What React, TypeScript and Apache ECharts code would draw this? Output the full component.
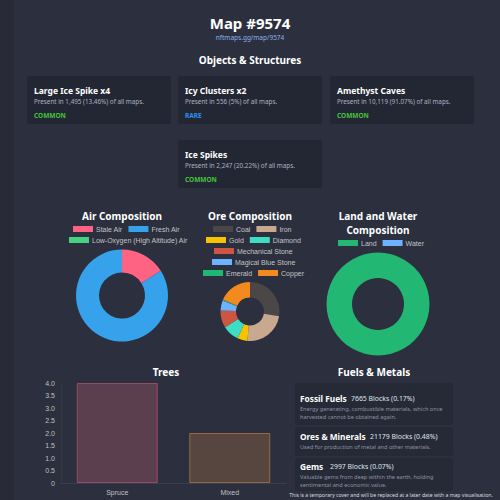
import React, { useEffect, useRef } from "react";
import * as echarts from "echarts";

// ---------- data ----------
const mapTitle = "Map #9574";
const mapLink = "nftmaps.gg/map/9574";

const objectTitles = ["Large Ice Spike x4", "Icy Clusters x2", "Amethyst Caves", "Ice Spikes"];
const objectDescs = [
  "Present in 1,495 (13.46%) of all maps.",
  "Present in 556 (5%) of all maps.",
  "Present in 10,119 (91.07%) of all maps.",
  "Present in 2,247 (20.22%) of all maps.",
];
const objectRarity = ["COMMON", "RARE", "COMMON", "COMMON"];

const airNames = ["Stale Air", "Fresh Air", "Low-Oxygen (High Altitude) Air"];
const airValues = [16, 84, 0];
const airColors = ["#ff6384", "#36a2eb", "#45d381"];

const oreNames = ["Coal", "Iron", "Gold", "Diamond", "Mechanical Stone", "Magical Blue Stone", "Emerald", "Copper"];
const oreValues = [27.6, 23.8, 5.5, 9.2, 9.4, 5.6, 0.5, 18.4];
const oreColors = ["#4a4746", "#c9a890", "#f9c200", "#3fdcc4", "#cf5543", "#6cb2ff", "#1eb774", "#f38a1f"];

const landNames = ["Land", "Water"];
const landValues = [100, 0];
const landColors = ["#22b873", "#6cb2ff"];

const treeCategories = ["Spruce", "Mixed"];
const treeValues = [4, 2];
const treeFill = ["#5b3f4f", "#57463f"];
const treeBorder = ["rgba(255,99,132,0.45)", "rgba(255,159,64,0.45)"];

const fuelNames = ["Fossil Fuels", "Ores & Minerals", "Gems"];
const fuelBlocks = ["7665 Blocks (0.17%)", "21179 Blocks (0.48%)", "2997 Blocks (0.07%)"];
const fuelDescs = [
  ["Energy generating, combustible materials, which once", "harvested cannot be obtained again."],
  ["Used for production of metal and other materials."],
  ["Valuable gems from deep within the earth, holding", "sentimental and economic value."],
];
const footerText = "This is a temporary cover and will be replaced at a later date with a map visualisation.";

// ---------- helpers ----------
const HEAD = "'Noto Sans', 'Open Sans', sans-serif";
const BODY = "'Liberation Sans', Arial, sans-serif";

function txt(text: string, x: number, y: number, size: number, fill: string, weight: string | number = "normal", align = "left", family = HEAD) {
  return {
    type: "text",
    x,
    y,
    z: 10,
    style: {
      text,
      fill,
      fontSize: size,
      fontWeight: weight,
      fontFamily: family,
      textAlign: align,
      textVerticalAlign: "middle",
    },
  };
}

function card(x: number, y: number, w: number, h: number, fill = "#232733") {
  return { type: "rect", z: 1, shape: { x, y, width: w, height: h, r: 3 }, style: { fill } };
}

function legend(names: string[], left: number, cy: number) {
  return {
    data: names,
    left,
    top: cy - 4.5,
    padding: 0,
    orient: "horizontal",
    icon: "rect",
    itemWidth: 20,
    itemHeight: 6,
    itemGap: 6,
    selectedMode: false,
    textStyle: { color: "#c4c4c4", fontSize: 7, fontFamily: BODY, padding: [0, 0, 0, -2] },
  };
}

export default function App() {
  const ref = useRef<HTMLDivElement>(null);
  useEffect(() => {
    if (!ref.current) return;
    const chart = echarts.init(ref.current, undefined, { renderer: "svg" });

    const cardPos = [
      [27, 76],
      [178, 76],
      [330, 76],
      [178, 140],
    ];
    const rarityColor = (r: string) => (r === "RARE" ? "#2f8ff0" : "#45c23c");
    const graphics: any[] = [];
    graphics.push({ type: "rect", z: 0, shape: { x: 0, y: 0, width: 14, height: 500 }, style: { fill: "#282b37" } });
    graphics.push(txt(mapTitle, 250, 23, 15, "#ffffff", "bold", "center"));
    graphics.push(txt(mapLink, 250, 37.5, 6.5, "#8fb0ea", "normal", "center"));
    graphics.push(txt("Objects & Structures", 250, 60, 10, "#ffffff", "bold", "center"));
    objectTitles.forEach((t, i) => {
      const [x, y] = cardPos[i];
      graphics.push(card(x, y, 144, 48));
      graphics.push(txt(t, x + 7, y + 14.5, 8.5, "#ffffff", "bold"));
      graphics.push(txt(objectDescs[i], x + 7, y + 25.5, 6.3, "#aab2c4"));
      graphics.push(txt(objectRarity[i], x + 7, y + 39, 6.5, rarityColor(objectRarity[i]), "bold"));
    });

    graphics.push(txt("Air Composition", 122, 215.5, 10, "#ffffff", "bold", "center"));
    graphics.push(txt("Ore Composition", 250, 215.5, 10, "#ffffff", "bold", "center"));
    graphics.push(txt("Land and Water", 378, 215.5, 10, "#ffffff", "bold", "center"));
    graphics.push(txt("Composition", 378, 229.5, 10, "#ffffff", "bold", "center"));
    graphics.push(txt("Trees", 166, 372, 10, "#ffffff", "bold", "center"));
    graphics.push(txt("Fuels & Metals", 374, 372, 10, "#ffffff", "bold", "center"));

    const fuelRects = [
      [383, 42],
      [427, 29],
      [458, 33],
    ];
    const fuelY = [398.5, 436.3, 466.7];
    const blockX = [351, 370, 330];
    fuelNames.forEach((n, i) => {
      graphics.push(card(295, fuelRects[i][0], 158, fuelRects[i][1], "#262a37"));
      graphics.push(txt(n, 300, fuelY[i], 8.3, "#ffffff", "bold"));
      graphics.push(txt(fuelBlocks[i], blockX[i], fuelY[i], 6.9, "#dfe3ec"));
      fuelDescs[i].forEach((d, j) => {
        graphics.push(txt(d, 300, fuelY[i] + 10.5 + j * 7.8, 5.6, "#8b92a3"));
      });
    });
    graphics.push(txt(footerText, 391, 494.5, 5.1, "#dcdcdc", "normal", "center"));

    const pieBase = {
      type: "pie",
      label: { show: false },
      labelLine: { show: false },
      emphasis: { disabled: true },
      silent: true,
      startAngle: 90,
      clockwise: true,
      avoidLabelOverlap: false,
      itemStyle: { borderWidth: 0 },
    };

    chart.setOption({
      animation: false,
      backgroundColor: "#2b2f3e",
      legend: [
        legend([airNames[0], airNames[1]], 73, 230),
        legend([airNames[2]], 69, 241),
        legend([oreNames[0], oreNames[1]], 213, 230),
        legend([oreNames[2], oreNames[3]], 206, 241),
        legend([oreNames[4]], 214, 252),
        legend([oreNames[5]], 212, 263),
        legend([oreNames[6], oreNames[7]], 203, 274),
        legend([landNames[0], landNames[1]], 338, 244),
      ],
      grid: { left: 61, right: 214, top: 383, bottom: 17, containLabel: false },
      xAxis: {
        type: "category",
        data: treeCategories,
        axisLine: { show: true, lineStyle: { color: "#3a3f4f" } },
        axisTick: { show: false },
        axisLabel: { color: "#c0c0c0", fontSize: 7, fontFamily: BODY, margin: 6 },
        splitLine: { show: false },
      },
      yAxis: {
        type: "value",
        min: 0,
        max: 4,
        interval: 0.5,
        axisLine: { show: true, lineStyle: { color: "#333847" } },
        axisTick: { show: false },
        axisLabel: {
          color: "#c0c0c0",
          fontSize: 7,
          fontFamily: BODY,
          margin: 6,
          formatter: (v: number) => (v === 0 ? "0" : v.toFixed(1)),
        },
        splitLine: { show: false },
      },
      series: [
        {
          ...pieBase,
          name: "airPie",
          center: [122, 295.5],
          radius: [23, 46],
          data: airNames.map((n, i) => ({ name: n, value: airValues[i], itemStyle: { color: airColors[i] } })),
        },
        {
          ...pieBase,
          name: "orePie",
          center: [250, 311.5],
          radius: [14, 29.5],
          data: oreNames.map((n, i) => ({ name: n, value: oreValues[i], itemStyle: { color: oreColors[i] } })),
        },
        {
          ...pieBase,
          name: "landPie",
          center: [378, 304],
          radius: [26, 51.5],
          data: landNames.map((n, i) => ({ name: n, value: landValues[i], itemStyle: { color: landColors[i] } })),
        },
        {
          type: "bar",
          name: "treeBars",
          barWidth: 81,
          silent: true,
          data: treeValues.map((v, i) => ({
            value: v,
            itemStyle: { color: treeFill[i], borderColor: treeBorder[i], borderWidth: 1 },
          })),
        },
      ],
      graphic: graphics,
    });
    return () => chart.dispose();
  }, []);

  return <div ref={ref} style={{ position: "fixed", left: 0, top: 0, width: 500, height: 500 }} />;
}
